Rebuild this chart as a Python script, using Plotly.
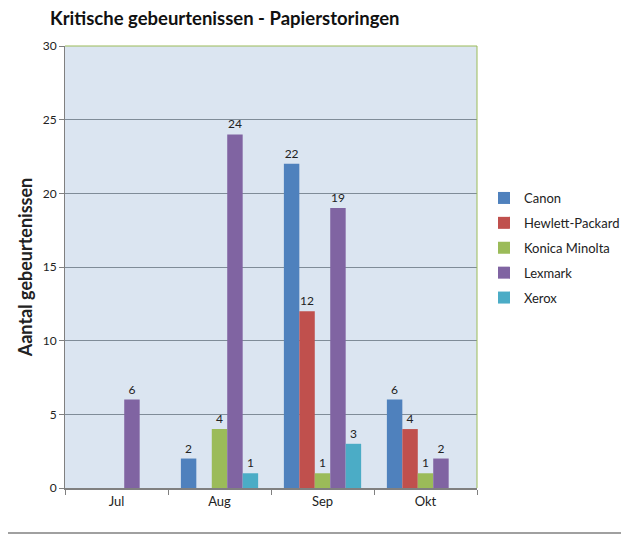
import plotly.graph_objects as go

months = ["Jul", "Aug", "Sep", "Okt"]
canon = [0, 2, 22, 6]
hp = [0, 0, 12, 4]
konica = [0, 4, 1, 1]
lexmark = [6, 24, 19, 2]
xerox = [0, 1, 3, 0]

series = [
    ("Canon", canon, "#4f81bd"),
    ("Hewlett-Packard", hp, "#c0504d"),
    ("Konica Minolta", konica, "#9bbb59"),
    ("Lexmark", lexmark, "#8064a2"),
    ("Xerox", xerox, "#4bacc6"),
]

FONT = "Lato"
# page has an 8px body offset; compensate in margins
L, T = 57, 38
PW, PH = 412, 442
fig = go.Figure()
for name, vals, col in series:
    fig.add_trace(go.Bar(
        name=name, x=months, y=vals, marker_color=col, marker_line_width=0,
        legendgroup=name,
        text=[str(v) if v else "" for v in vals], textposition="outside",
        textfont=dict(size=12, color="#222222", family=FONT), cliponaxis=False,
    ))

fig.update_layout(
    width=629, height=534,
    margin=dict(l=L, r=629 - L - PW, t=T, b=534 - T - PH, autoexpand=False),
    paper_bgcolor="white", plot_bgcolor="#dbe5f1",
    barmode="group", bargap=0.25, bargroupgap=0,
    font=dict(family=FONT, size=12, color="#222222"),
    title=dict(text="<b>Kritische gebeurtenissen - Papierstoringen</b>",
               x=42 / 629, xanchor="left", y=1 - 11 / 534, yanchor="middle",
               font=dict(size=18.5, family=FONT, color="#111111")),
    showlegend=True,
    legend=dict(x=(476 - L) / PW, xanchor="left", y=1 - (175 - T) / PH, yanchor="top",
                font=dict(size=13, family=FONT), tracegroupgap=5,
                itemwidth=30, bgcolor="rgba(0,0,0,0)"),
    xaxis=dict(showline=True, linecolor="#808080", linewidth=2,
               ticks="outside", tickson="boundaries", ticklen=5, tickcolor="#808080",
               tickfont=dict(size=13, family=FONT), mirror=False),
    yaxis=dict(range=[0, 30], dtick=5, showgrid=True, gridcolor="#7f8c98",
               gridwidth=1, showline=True, linecolor="#808080", linewidth=1,
               ticks="outside", ticklen=5, tickcolor="#808080", zeroline=False,
               tickfont=dict(size=12, family=FONT),
               title=dict(text="<b>Aantal gebeurtenissen</b>",
                          font=dict(size=18, family=FONT), standoff=5)),
    shapes=[
        dict(type="line", xref="paper", yref="paper", x0=0, x1=1, y0=1, y1=1,
             line=dict(color="#9bbb59", width=1)),
        dict(type="line", xref="paper", yref="paper", x0=1, x1=1, y0=0, y1=1,
             line=dict(color="#9bbb59", width=1)),
        dict(type="line", xref="paper", yref="paper", x0=-L / PW, x1=(629 - L) / PW,
             y0=-45 / PH, y1=-45 / PH, line=dict(color="#a0a0a0", width=2)),
    ],
)
fig.write_html("out.html")
